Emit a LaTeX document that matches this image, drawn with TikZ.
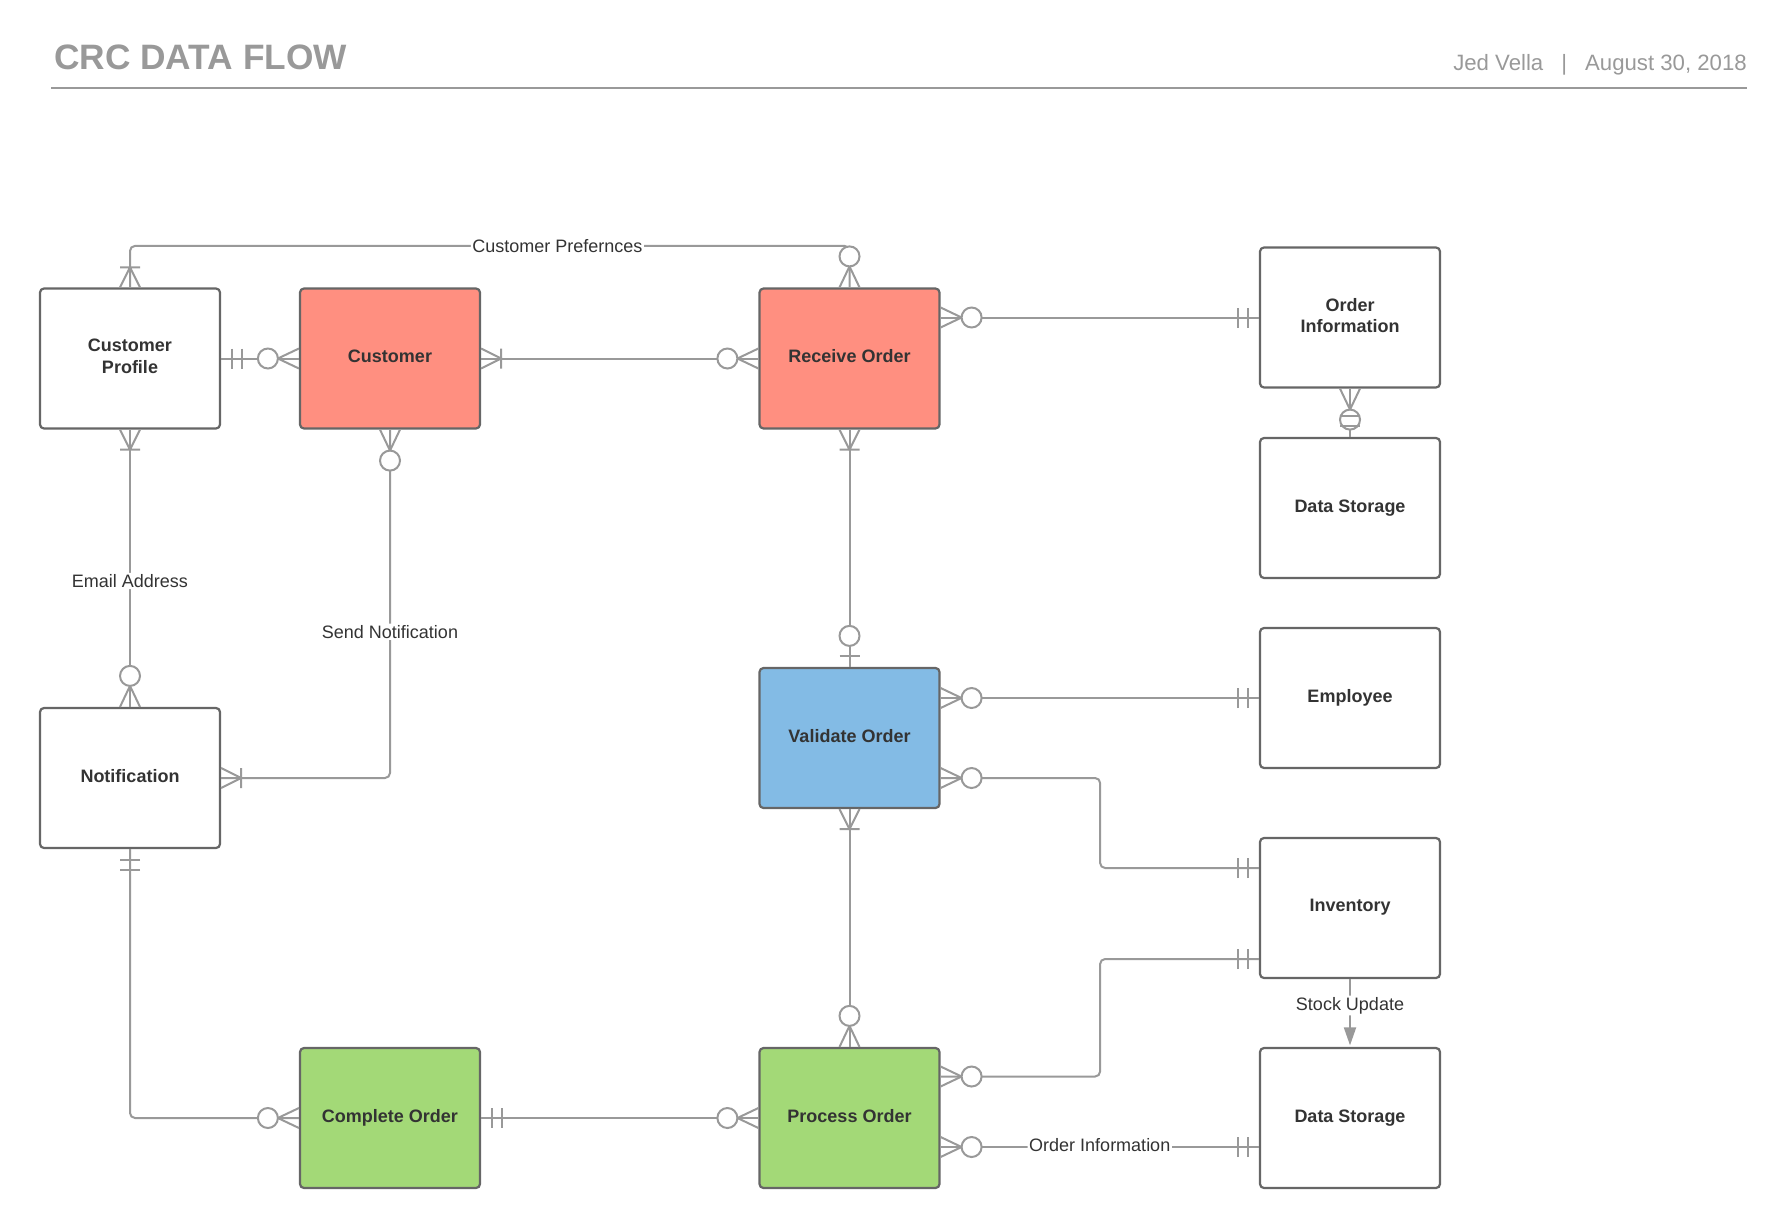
\documentclass[tikz,border=0pt]{standalone}
\usepackage{fontspec}
\setmainfont{Liberation Sans}
\usetikzlibrary{calc,arrows.meta}

\definecolor{linegray}{HTML}{999999}
\definecolor{boxborder}{HTML}{666666}
\definecolor{txt}{HTML}{333333}
\definecolor{headgray}{HTML}{999999}
\definecolor{salmon}{HTML}{FF8F80}
\definecolor{skyblue}{HTML}{83BBE5}
\definecolor{leaf}{HTML}{A3D977}

\tikzset{
  entity/.style={draw=boxborder, line width=2.2pt, rounded corners=4pt, fill=white,
    minimum width=180pt, minimum height=140pt, inner sep=0pt, align=center,
    text depth=4.5pt, text=txt, font=\fontsize{18}{21.5}\selectfont\bfseries},
  conn/.style={draw=linegray, line width=2pt, rounded corners=5pt},
  lbl/.style={fill=white, inner sep=1.5pt, text=txt, font=\fontsize{18}{20}\selectfont},
  crowline/.style={draw=linegray, line width=2pt, line cap=butt},
  % cardinality symbols, drawn outward along +x from a box edge
  exactlyone/.pic={\draw[crowline] (11,-10)--(11,10) (21,-10)--(21,10);},
  onemany/.pic={\draw[crowline] (0,10)--(20,0)--(0,-10) (20,-10)--(20,10);},
  zeromany/.pic={\draw[crowline] (0,10)--(21,0)--(0,-10);
                 \draw[crowline, fill=white] (31,0) circle (10);},
  zeroone/.pic={\draw[crowline] (11,-10)--(11,10);
                \draw[crowline, fill=white] (31,0) circle (10);},
}

\begin{document}
\begin{tikzpicture}[x=1pt, y=-1pt]
\useasboundingbox (0,0) rectangle (1788,1228);

% header
\node[anchor=base west, inner sep=0pt, text=headgray, font=\fontsize{35.3}{40}\selectfont\bfseries] (title) at (54,70) {CRC DATA FLOW};
\node[anchor=base east, inner sep=0pt, text=headgray, font=\fontsize{22.2}{26}\selectfont] (byline) at (1747,70.5) {Jed Vella\hspace{18pt}|\hspace{18pt}August 30, 2018};
\coordinate (ruleL) at (51,88);
\coordinate (ruleR) at (1747,88);
\draw[headgray, line width=2pt] (ruleL) -- (ruleR);

% entities
\node[entity] (cp) at (130,358.5) {Customer\\Profile};
\node[entity, fill=salmon] (cu) at (390,358.5) {Customer};
\node[entity, fill=salmon] (ro) at (849.5,358.5) {Receive Order};
\node[entity] (oi) at (1350,317.5) {Order\\Information};
\node[entity] (ds1) at (1350,508) {Data Storage};
\node[entity] (emp) at (1350,698) {Employee};
\node[entity, fill=skyblue] (vo) at (849.5,738) {Validate Order};
\node[entity] (nt) at (130,778) {Notification};
\node[entity] (inv) at (1350,908) {Inventory};
\node[entity, fill=leaf] (co) at (390,1118) {Complete Order};
\node[entity, fill=leaf] (po) at (849.5,1118) {Process Order};
\node[entity] (ds2) at (1350,1118) {Data Storage};

% Customer Profile -- Receive Order
\draw[conn] (cp.north) -- ++(0,-41.5) -| node[lbl, pos=0.297] {Customer Prefernces} (ro.north);
\pic[rotate=90] at (cp.north) {onemany};
\pic[rotate=90] at (ro.north) {zeromany};

% Customer Profile -- Customer
\draw[conn] (cp.east) -- (cu.west);
\pic at (cp.east) {exactlyone};
\pic[rotate=180] at (cu.west) {zeromany};

% Customer -- Receive Order
\draw[conn] (cu.east) -- (ro.west);
\pic at (cu.east) {onemany};
\pic[rotate=180] at (ro.west) {zeromany};

% Customer Profile -- Notification
\draw[conn] (cp.south) -- node[lbl, pos=0.546] {Email Address} (nt.north);
\pic[rotate=-90] at (cp.south) {onemany};
\pic[rotate=90] at (nt.north) {zeromany};

% Customer -- Notification
\draw[conn] (cu.south) |- node[lbl, pos=0.29] {Send Notification} (nt.east);
\pic[rotate=-90] at (cu.south) {zeromany};
\pic at (nt.east) {onemany};

% Notification -- Complete Order
\draw[conn] (nt.south) |- (co.west);
\pic[rotate=-90] at (nt.south) {exactlyone};
\pic[rotate=180] at (co.west) {zeromany};

% Complete Order -- Process Order
\draw[conn] (co.east) -- (po.west);
\pic at (co.east) {exactlyone};
\pic[rotate=180] at (po.west) {zeromany};

% Receive Order -- Validate Order
\draw[conn] (ro.south) -- (vo.north);
\pic[rotate=-90] at (ro.south) {onemany};
\pic[rotate=90] at (vo.north) {zeroone};

% Validate Order -- Process Order
\draw[conn] (vo.south) -- (po.north);
\pic[rotate=-90] at (vo.south) {onemany};
\pic[rotate=90] at (po.north) {zeromany};

% Receive Order -- Order Information
\draw[conn] (ro.east |- oi.west) -- (oi.west);
\pic at (ro.east |- oi.west) {zeromany};
\pic[rotate=180] at (oi.west) {exactlyone};

% Order Information -- Data Storage
\draw[conn] (oi.south) -- (ds1.north);
\pic[rotate=-90] at (oi.south) {zeromany};
\pic[rotate=90] at (ds1.north) {exactlyone};

% Validate Order -- Employee
\draw[conn] (vo.east |- emp.west) -- (emp.west);
\pic at (vo.east |- emp.west) {zeromany};
\pic[rotate=180] at (emp.west) {exactlyone};

% Validate Order -- Inventory
\coordinate (voA) at ($(vo.east)+(0,40)$);
\coordinate (invA) at ($(inv.west)+(0,-40)$);
\draw[conn] (voA) -- ++(159.5,0) |- (invA);
\pic at (voA) {zeromany};
\pic[rotate=180] at (invA) {exactlyone};

% Process Order -- Inventory
\coordinate (poA) at ($(po.east)+(0,-41.5)$);
\coordinate (invB) at ($(inv.west)+(0,51)$);
\draw[conn] (poA) -- ++(159.5,0) |- (invB);
\pic at (poA) {zeromany};
\pic[rotate=180] at (invB) {exactlyone};

% Process Order -- Data Storage
\coordinate (poB) at ($(po.east)+(0,29)$);
\coordinate (dsB) at ($(ds2.west)+(0,29)$);
\draw[conn] (poB) -- node[lbl, yshift=1.5pt] {Order Information} (dsB);
\pic at (poB) {zeromany};
\pic[rotate=180] at (dsB) {exactlyone};

% Inventory -> Data Storage
\draw[conn, -{Triangle[length=18pt, width=12pt]}, shorten >=1.5pt] (inv.south) -- node[lbl, pos=0.39] {Stock Update} (ds2.north);

\end{tikzpicture}
\end{document}
